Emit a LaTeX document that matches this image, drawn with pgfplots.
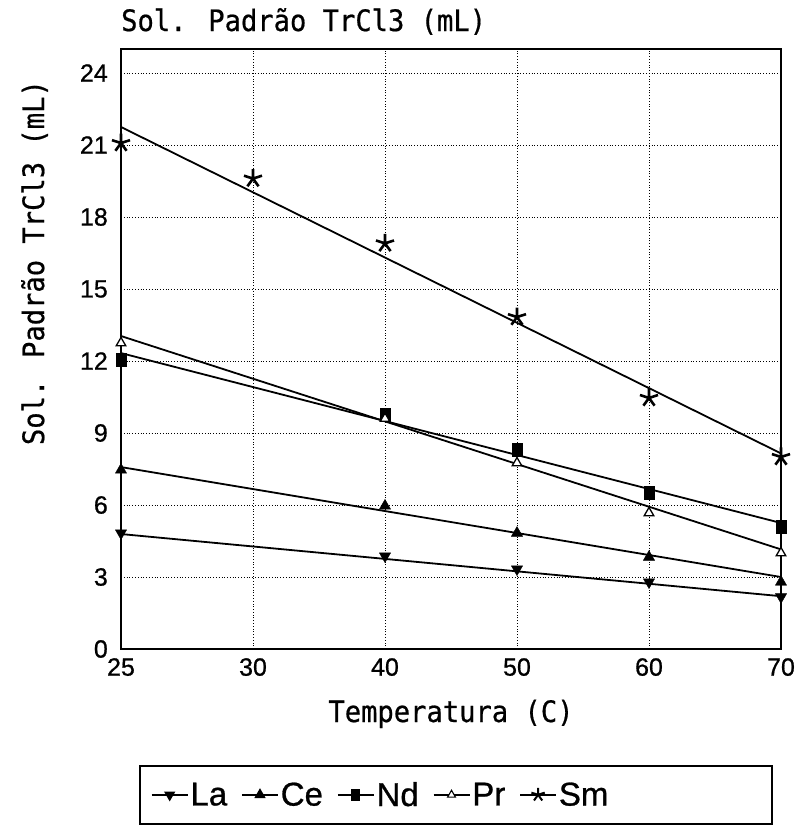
\documentclass[border=0pt]{standalone}
\usepackage{fontspec}
\setmainfont{Liberation Sans}[FakeBold=0.8]
\newfontfamily\monofont{DejaVu Sans Mono}[FakeStretch=0.92,FakeBold=0.6]
\usepackage{pgfplots}
\pgfplotsset{compat=1.18}
\begin{document}
\begin{tikzpicture}
\path[use as bounding box] (-121bp,-177bp) rectangle (682bp,649bp);
\begin{axis}[
  at={(0,0)}, anchor=south west,
  scale only axis, width=660bp, height=600bp,
  xmin=0, xmax=5, ymin=0, ymax=25,
  clip=false,
  xtick={0,1,2,3,4,5}, xticklabels={25,30,40,50,60,70},
  ytick={0,3,6,9,12,15,18,21,24},
  major tick length=0pt,
  grid=major, grid style={black, line width=0.8bp, dotted},
  axis line style={line width=1.8bp},
  tick label style={font=\fontsize{25bp}{30bp}\selectfont, inner sep=0pt},
  /pgf/number format/assume math mode=true,
  yticklabel style={anchor=east, xshift=-13bp},
  xticklabel style={anchor=north, yshift=-9bp},
  title={Sol. Padrão TrCl3 (mL)},
  title style={at={(axis description cs:0,1)}, anchor=base west, yshift=12bp,
    font=\monofont\fontsize{29.5bp}{35bp}\selectfont, inner sep=0pt},
  xlabel={Temperatura (C)},
  xlabel style={at={(axis description cs:0.5,0)}, anchor=base, yshift=-73bp,
    font=\monofont\fontsize{29.5bp}{35bp}\selectfont, inner sep=0pt},
  ylabel={Sol. Padrão TrCl3 (mL)},
  ylabel style={at={(axis description cs:-0.131,0.644)}, anchor=center,
    font=\monofont\fontsize{29.5bp}{35bp}\selectfont, inner sep=0pt},
  legend image code/.code={\draw[mark repeat=2,mark phase=2,#1] plot coordinates {(0bp,0bp) (18bp,0bp) (36bp,0bp)};},
  legend style={at={(axis description cs:0.045,-0.243)}, anchor=west, draw=none,
    fill=none, inner sep=0pt, font=\fontsize{33bp}{40bp}\selectfont,
    /tikz/every even column/.append style={column sep=12bp}},
  legend columns=5,
]
% fitted lines
\addplot[black, line width=1.8bp, forget plot] coordinates {(0,4.79) (5,2.2)};
\addplot[black, line width=1.8bp, forget plot] coordinates {(0,7.58) (5,3.0)};
\addplot[black, line width=1.8bp, forget plot] coordinates {(0,12.33) (5,5.25)};
\addplot[black, line width=1.8bp, forget plot] coordinates {(0,13.04) (5,4.15)};
\addplot[black, line width=1.8bp, forget plot] coordinates {(0,21.75) (5,8.15)};
% data points
\addplot[only marks, black, mark=triangle*, mark size=6.5bp, mark options={rotate=180, fill=black}, forget plot]
  coordinates {(0,4.83) (2,3.87) (3,3.33) (4,2.79) (5,2.17)};
\addplot[only marks, black, mark=triangle*, mark size=6.5bp, mark options={fill=black}, forget plot]
  coordinates {(0,7.46) (2,5.96) (3,4.83) (4,3.83) (5,2.79)};
\addplot[only marks, black, mark=square*, mark size=5bp, mark options={fill=black, yscale=1.3}, forget plot]
  coordinates {(0,12.04) (2,9.75) (3,8.29) (4,6.5) (5,5.08)};
\addplot[only marks, black, mark=triangle*, mark size=5.5bp, mark options={fill=white, line width=1.3bp}, forget plot]
  coordinates {(0,12.75) (2,9.6) (3,7.75) (4,5.67) (5,4.0)};
\addplot[only marks, black, mark=star, mark size=9.5bp, mark options={line width=2.6bp}, forget plot]
  coordinates {(0,21.08) (1,19.6) (2,16.9) (3,13.83) (4,10.46) (5,8.0)};
% legend images
\addlegendimage{black, line width=1.6bp, mark=triangle*, mark size=5bp, mark options={rotate=180, fill=black}}
\addlegendimage{black, line width=1.6bp, mark=triangle*, mark size=5bp, mark options={fill=black}}
\addlegendimage{black, line width=1.6bp, mark=square*, mark size=3.8bp, mark options={fill=black, yscale=1.3}}
\addlegendimage{black, line width=1.6bp, mark=triangle*, mark size=4.5bp, mark options={fill=white, line width=1.1bp}}
\addlegendimage{black, line width=1.6bp, mark=star, mark size=7bp, mark options={line width=2bp}}
\legend{La,Ce,Nd,Pr,Sm}
\end{axis}
\draw[line width=1.5bp] (19bp,-117bp) rectangle (651bp,-175bp);
\end{tikzpicture}
\end{document}
